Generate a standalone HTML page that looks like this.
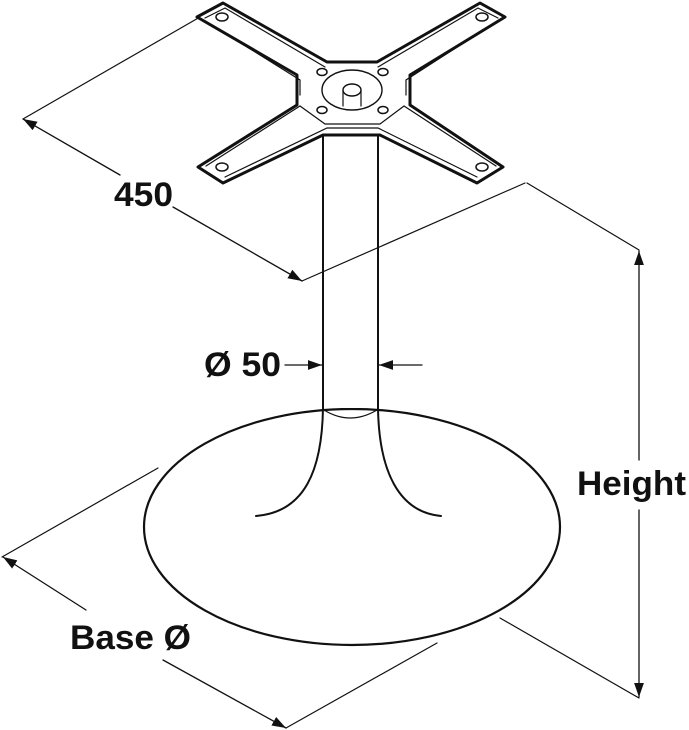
<!DOCTYPE html>
<html><head><style>html,body{margin:0;padding:0;background:#fff}svg{display:block}</style></head>
<body>
<svg width="689" height="730" viewBox="0 0 689 730" xmlns="http://www.w3.org/2000/svg">
<defs>
<marker id="a" viewBox="0 0 10 10" refX="10" refY="5" markerWidth="14" markerHeight="14" markerUnits="userSpaceOnUse" orient="auto"><path d="M0,1.5 L10,5 L0,8.5 Z" fill="#111"/></marker>
</defs>
<g stroke="#111" fill="none" stroke-linecap="round">
<line x1="200" y1="17" x2="23" y2="119" stroke-width="1.2"/>
<line x1="120" y1="175" x2="23" y2="119" stroke-width="1.3" marker-end="url(#a)"/>
<line x1="173" y1="207" x2="302" y2="281" stroke-width="1.3" marker-end="url(#a)"/>
<line x1="302" y1="281" x2="525" y2="183" stroke-width="1.2"/>
<polygon points="223,3 327,62 377,62 480,3 505,17 410,75 410,105 503,167 477,183 380,135 323,135 223,183 198,167 297,105 297,75 197,17" stroke-width="3" fill="#fff" stroke-linejoin="round"/>
<polyline points="205,18 225,8 325,67 " stroke-width="1.2"/>
<polyline points="207,22 300,80 300,95" stroke-width="1.2"/>
<polyline points="498,18 478,8 378,67" stroke-width="1.2"/>
<polyline points="496,22 406,80 406,95" stroke-width="1.2"/>
<polyline points="206,166 300,106 325,124 380,124 404,106 496,166" stroke-width="1.2"/>
<polyline points="225,177 327,128 378,128 477,177" stroke-width="1.2"/>
<ellipse cx="352" cy="90" rx="30" ry="20" stroke-width="1.4"/>
<ellipse cx="352" cy="90" rx="9" ry="6" stroke-width="1.4"/>
<line x1="343" y1="90" x2="343" y2="106" stroke-width="1.2"/>
<line x1="361" y1="90" x2="361" y2="106" stroke-width="1.2"/>
<g stroke-width="1.5">
<ellipse cx="322" cy="72" rx="5" ry="3.5"/><ellipse cx="383" cy="72" rx="5" ry="3.5"/>
<ellipse cx="322" cy="110" rx="5" ry="3.5"/><ellipse cx="383" cy="110" rx="5" ry="3.5"/>
<ellipse cx="222" cy="17" rx="6" ry="4"/><ellipse cx="482" cy="17" rx="6" ry="4"/>
<ellipse cx="222" cy="167" rx="6" ry="4"/><ellipse cx="482" cy="167" rx="6" ry="4"/>
</g>
<line x1="323" y1="136" x2="323" y2="410" stroke-width="2"/>
<line x1="378" y1="136" x2="378" y2="410" stroke-width="2"/>
<ellipse cx="352" cy="527" rx="208" ry="118" stroke-width="2.2" fill="#fff"/>
<path d="M323,408 C322,470 305,512 256,516" stroke-width="2"/>
<path d="M378,408 C379,470 398,512 441,516" stroke-width="2"/>
<rect x="323" y="400" width="55" height="8" fill="#fff" stroke="none"/>
<line x1="323" y1="395" x2="323" y2="410" stroke-width="2"/>
<line x1="378" y1="395" x2="378" y2="410" stroke-width="2"/>
<path d="M324,410 Q350,426 377,410" stroke-width="1.2"/>
<line x1="285" y1="365" x2="322" y2="365" stroke-width="1.3" marker-end="url(#a)"/>
<line x1="422" y1="365" x2="379" y2="365" stroke-width="1.3" marker-end="url(#a)"/>
<line x1="158" y1="468" x2="2" y2="557" stroke-width="1.2"/>
<line x1="86" y1="610" x2="3" y2="557" stroke-width="1.3" marker-end="url(#a)"/>
<line x1="163" y1="660" x2="286" y2="728" stroke-width="1.3" marker-end="url(#a)"/>
<line x1="286" y1="728" x2="437" y2="643" stroke-width="1.2"/>
<line x1="527" y1="183" x2="639" y2="250" stroke-width="1.2"/>
<line x1="500" y1="618" x2="639" y2="698" stroke-width="1.2"/>
<line x1="639" y1="460" x2="639" y2="251" stroke-width="1.3" marker-end="url(#a)"/>
<line x1="639" y1="510" x2="639" y2="697" stroke-width="1.3" marker-end="url(#a)"/>
</g>
<g font-family="Liberation Sans, sans-serif" font-weight="bold" fill="#111" font-size="34">
<text x="114" y="206" textLength="59" lengthAdjust="spacingAndGlyphs">450</text>
<text x="204" y="376" textLength="77" lengthAdjust="spacingAndGlyphs">Ø 50</text>
<text x="577" y="495" textLength="109" lengthAdjust="spacingAndGlyphs">Height</text>
<text x="70" y="649" textLength="121" lengthAdjust="spacingAndGlyphs">Base Ø</text>
</g>
</svg>
</body></html>
